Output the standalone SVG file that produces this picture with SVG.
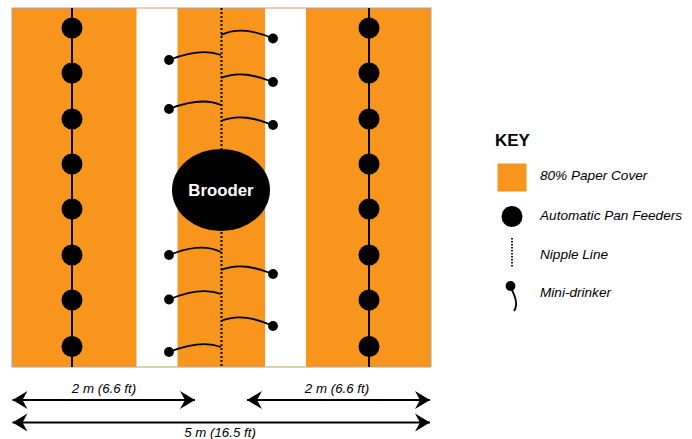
<svg xmlns="http://www.w3.org/2000/svg" width="692" height="439" viewBox="0 0 692 439">
<style>
text{font-family:"Liberation Sans",Arial,sans-serif;fill:#000}
.i{font-style:italic;font-size:13.6px}
.m{font-style:italic;font-size:13.3px}
.c{text-anchor:middle}
.org{fill:#f8951d}
.d{fill:none;stroke:#000;stroke-width:1.8}
.wire{fill:none;stroke:#000;stroke-width:2}
.dim{fill:none;stroke:#000;stroke-width:2}
</style>
<defs>
<marker id="ah" viewBox="0 0 16 20" refX="15" refY="10" markerWidth="16" markerHeight="20" markerUnits="userSpaceOnUse" orient="auto-start-reverse"><path d="M0 1 L15 10 L0 19 L5 10 Z" fill="#000"/></marker>
<circle id="f" r="10.500" fill="#000"/>
<circle id="n" r="4.900" fill="#000"/>
</defs>
<g id="floor">
<rect x="12" y="8" width="419" height="359" class="org" stroke="#a6a6a6" stroke-width="1"/>
<rect x="136.500" y="8.500" width="41" height="358" fill="#fff"/>
<rect x="265" y="8.500" width="41" height="358" fill="#fff"/>
</g>
<g id="connectors">
<path class="wire" d="M72 8V367M369 8V367"/>
<path d="M221.500 8V367" fill="none" stroke="#000" stroke-width="2" stroke-dasharray="2 2"/>
<path class="d" d="M221 35C238 27 255 31 273 38.500"/>
<path class="d" d="M221 78C238 71 255 75 273 82"/>
<path class="d" d="M221 121C238 114 255 118 273 125"/>
<path class="d" d="M221 270C238 263 255 267 273 274"/>
<path class="d" d="M221 321C238 314 255 318 273 326"/>
<path class="d" d="M169 60C187 53 205 49 221 55"/>
<path class="d" d="M169 109C187 102 205 98 221 105"/>
<path class="d" d="M169 255C187 248 205 244 221 252"/>
<path class="d" d="M169 299.500C187 292 205 288 221 294"/>
<path class="d" d="M169 352C187 345 205 341 221 347"/>
<line class="dim" x1="12.500" y1="400" x2="195" y2="400" marker-start="url(#ah)" marker-end="url(#ah)"/>
<line class="dim" x1="247" y1="400" x2="430" y2="400" marker-start="url(#ah)" marker-end="url(#ah)"/>
<line class="dim" x1="12.500" y1="422.500" x2="430" y2="422.500" marker-start="url(#ah)" marker-end="url(#ah)"/>
</g>
<g id="feeders-left">
<use href="#f" x="72" y="28"/><use href="#f" x="72" y="73"/><use href="#f" x="72" y="119"/><use href="#f" x="72" y="164"/><use href="#f" x="72" y="209"/><use href="#f" x="72" y="255"/><use href="#f" x="72" y="300"/><use href="#f" x="72" y="346.500"/>
</g>
<g id="feeders-right">
<use href="#f" x="369" y="28"/><use href="#f" x="369" y="73"/><use href="#f" x="369" y="119"/><use href="#f" x="369" y="164"/><use href="#f" x="369" y="209"/><use href="#f" x="369" y="255"/><use href="#f" x="369" y="300"/><use href="#f" x="369" y="346.500"/>
</g>
<g id="drinkers">
<use href="#n" x="273" y="38.500"/><use href="#n" x="273" y="82"/><use href="#n" x="273" y="125"/><use href="#n" x="273" y="274"/><use href="#n" x="273" y="326"/>
<use href="#n" x="169" y="60"/><use href="#n" x="169" y="109"/><use href="#n" x="169" y="255"/><use href="#n" x="169" y="299.500"/><use href="#n" x="169" y="352"/>
</g>
<g id="brooder">
<ellipse cx="221" cy="190" rx="49" ry="41" fill="#000"/>
<text x="221" y="196" class="c" font-size="16.800" font-weight="700" style="fill:#fff">Brooder</text>
</g>
<g id="labels">
<text x="104" y="393" class="m c">2 m (6.6 ft)</text>
<text x="337" y="393" class="m c">2 m (6.6 ft)</text>
<text x="220" y="437" class="m c">5 m (16.5 ft)</text>
</g>
<g id="key">
<text x="495" y="146" font-size="17" font-weight="700">KEY</text>
<rect x="497.500" y="163.500" width="29" height="28" class="org"/>
<text x="540" y="180" class="i">80% Paper Cover</text>
<use href="#f" x="512" y="216.500"/>
<text x="540" y="220" class="i">Automatic Pan Feeders</text>
<line x1="512" y1="238" x2="512" y2="268" stroke="#000" stroke-width="1.800" stroke-dasharray="1.500 1.500"/>
<text x="540" y="259" class="i">Nipple Line</text>
<circle cx="510.500" cy="286" r="4.900" fill="#000"/>
<path class="d" d="M511 288C514 294 519 304 514 311"/>
<text x="540" y="297" class="i">Mini-drinker</text>
</g>
</svg>
